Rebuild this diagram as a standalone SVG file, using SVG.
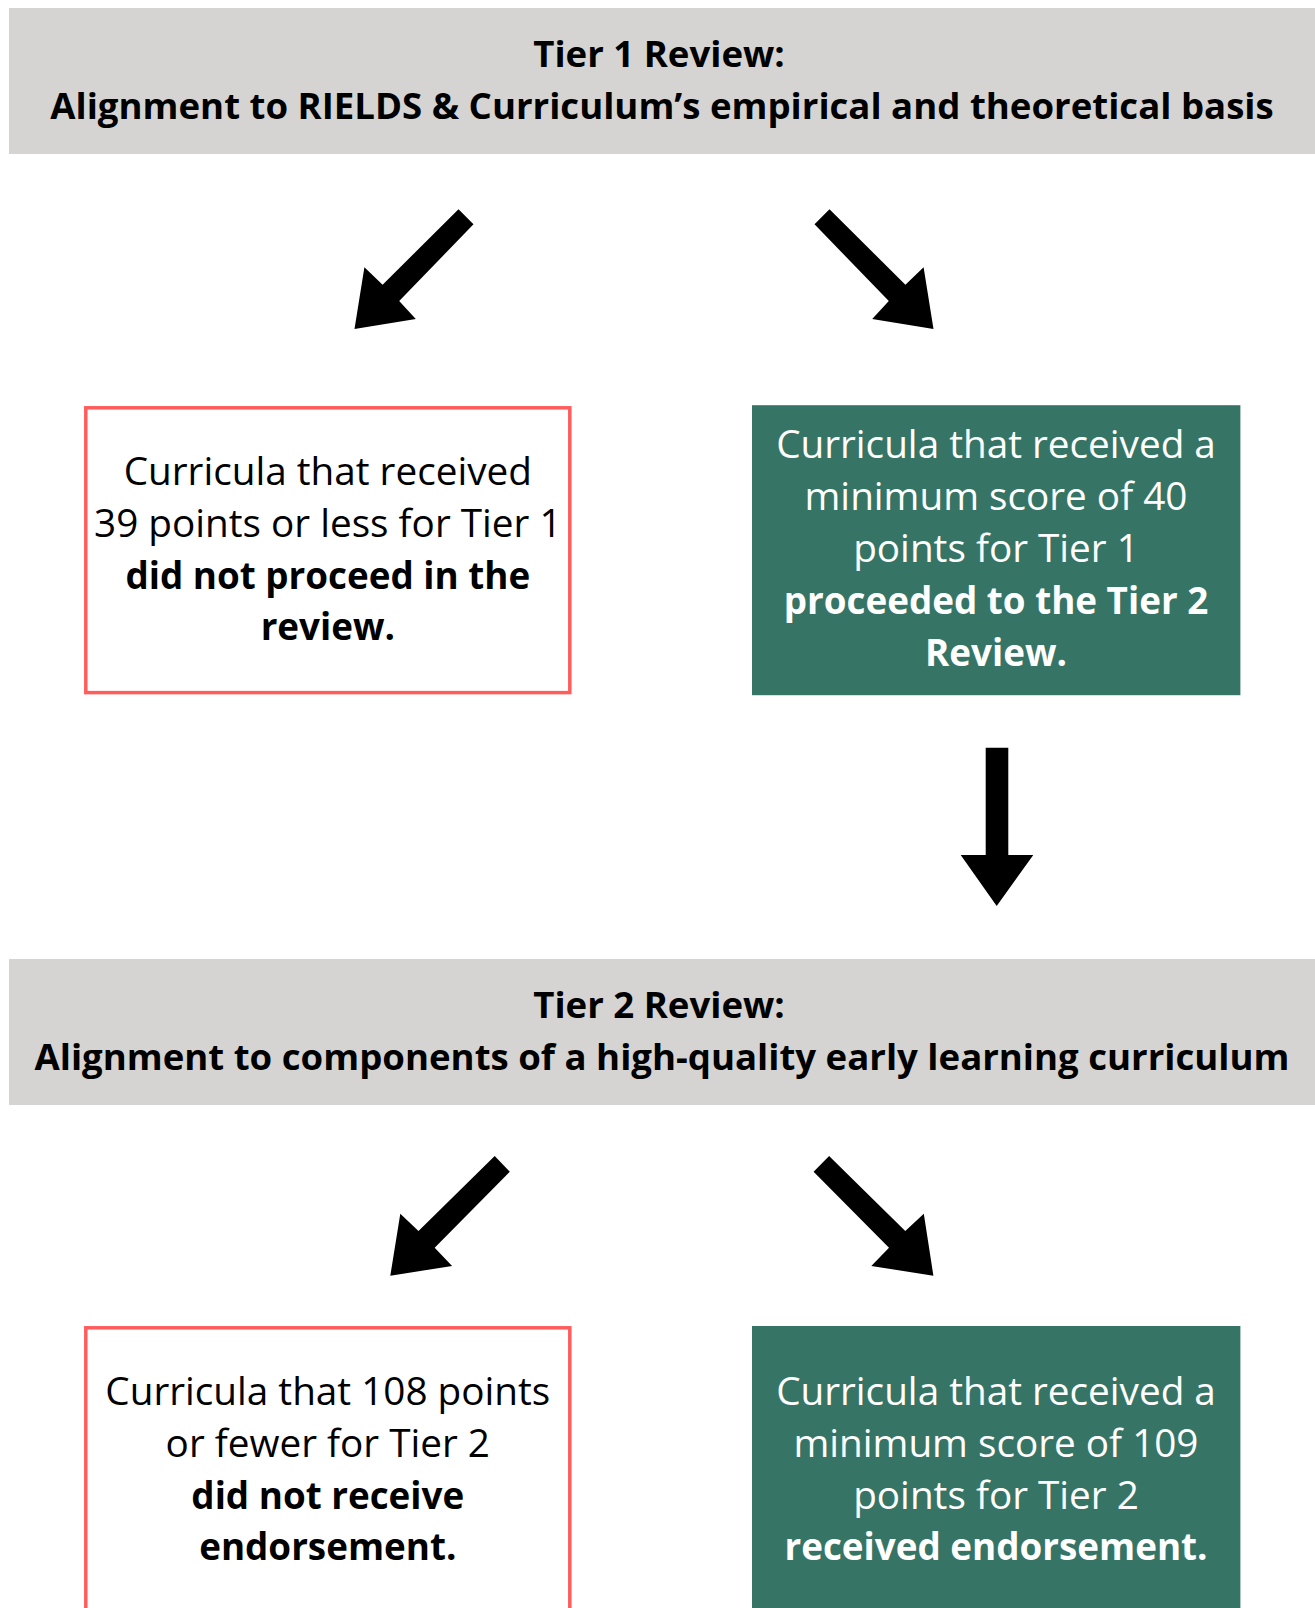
<svg xmlns="http://www.w3.org/2000/svg" width="1315" height="1608" viewBox="0 0 1315 1608">
<style>
.hdr{fill:#d5d4d2}
.fail{fill:#ffffff;stroke:#ff5c5c;stroke-width:3.5}
.pass{fill:#367566}
.ht{font-family:"Open Sans","Liberation Sans",sans-serif;font-weight:bold;font-size:36.6px;fill:#000;text-anchor:middle}
.bt{font-family:"Open Sans","Liberation Sans",sans-serif;font-size:38.7px;text-anchor:middle}
.dk{fill:#000}
.lt{fill:#fff}
.b{font-weight:bold;font-size:36.8px}
.arr{fill:#000}
</style>
<rect width="1315" height="1608" fill="#fff"/>
<g id="header1">
<rect class="hdr" x="9" y="8" width="1306" height="146"/>
<text class="ht" x="659" y="66.5">Tier 1 Review:</text>
<text class="ht" x="662" y="118.5">Alignment to RIELDS &amp; Curriculum’s empirical and theoretical basis</text>
</g>
<g id="fail1">
<rect class="fail" x="85.8" y="407.8" width="484" height="284.8"/>
<text class="bt dk" x="327.8" y="485">Curricula that received</text>
<text class="bt dk" x="327.8" y="536.8">39 points or less for Tier 1</text>
<text class="bt dk b" x="327.8" y="588.6">did not proceed in the</text>
<text class="bt dk b" x="327.8" y="640.4">review.</text>
</g>
<g id="pass1">
<rect class="pass" x="752" y="405.2" width="488.4" height="290"/>
<text class="bt lt" x="996" y="458.3">Curricula that received a</text>
<text class="bt lt" x="996" y="510.1">minimum score of 40</text>
<text class="bt lt" x="996" y="561.9">points for Tier 1</text>
<text class="bt lt b" x="996" y="613.7">proceeded to the Tier 2</text>
<text class="bt lt b" x="996" y="665.5">Review.</text>
</g>
<g id="header2">
<rect class="hdr" x="9" y="959" width="1306" height="146"/>
<text class="ht" x="659" y="1017.5">Tier 2 Review:</text>
<text class="ht" x="662" y="1069.5" font-size="36.2">Alignment to components of a high-quality early learning curriculum</text>
</g>
<g id="fail2">
<rect class="fail" x="85.8" y="1327.8" width="484" height="320"/>
<text class="bt dk" x="327.8" y="1405">Curricula that 108 points</text>
<text class="bt dk" x="327.8" y="1456.8">or fewer for Tier 2</text>
<text class="bt dk b" x="327.8" y="1508.6">did not receive</text>
<text class="bt dk b" x="327.8" y="1560.4">endorsement.</text>
</g>
<g id="pass2">
<rect class="pass" x="752" y="1326" width="488.4" height="320"/>
<text class="bt lt" x="996" y="1405">Curricula that received a</text>
<text class="bt lt" x="996" y="1456.8">minimum score of 109</text>
<text class="bt lt" x="996" y="1508.6">points for Tier 2</text>
<text class="bt lt b" x="996" y="1560.4">received endorsement.</text>
</g>
<g id="connectors">
<polygon class="arr" points="458.5,209.3 473.5,224.3 399.2,301 415.8,319 354.5,329 364.4,267.3 382.6,284.7"/>
<polygon class="arr" points="829.5,209.3 814.5,224.3 888.8,301 872.2,319 933.5,329 923.6,267.3 905.4,284.7"/>
<polygon class="arr" points="985.7,747.7 1008.3,747.7 1008.3,855 1033.3,855 996.7,906 960.7,855 985.7,855"/>
<polygon class="arr" points="494.7,1156 509.8,1171.7 434.7,1247.7 452.1,1266 390.3,1275.7 400.3,1213.7 418.5,1231"/>
<polygon class="arr" points="829.1,1156 813.6,1171.7 889,1247.7 871.3,1266 933.4,1275.7 923.8,1213.7 905.3,1231"/>
</g>
</svg>
